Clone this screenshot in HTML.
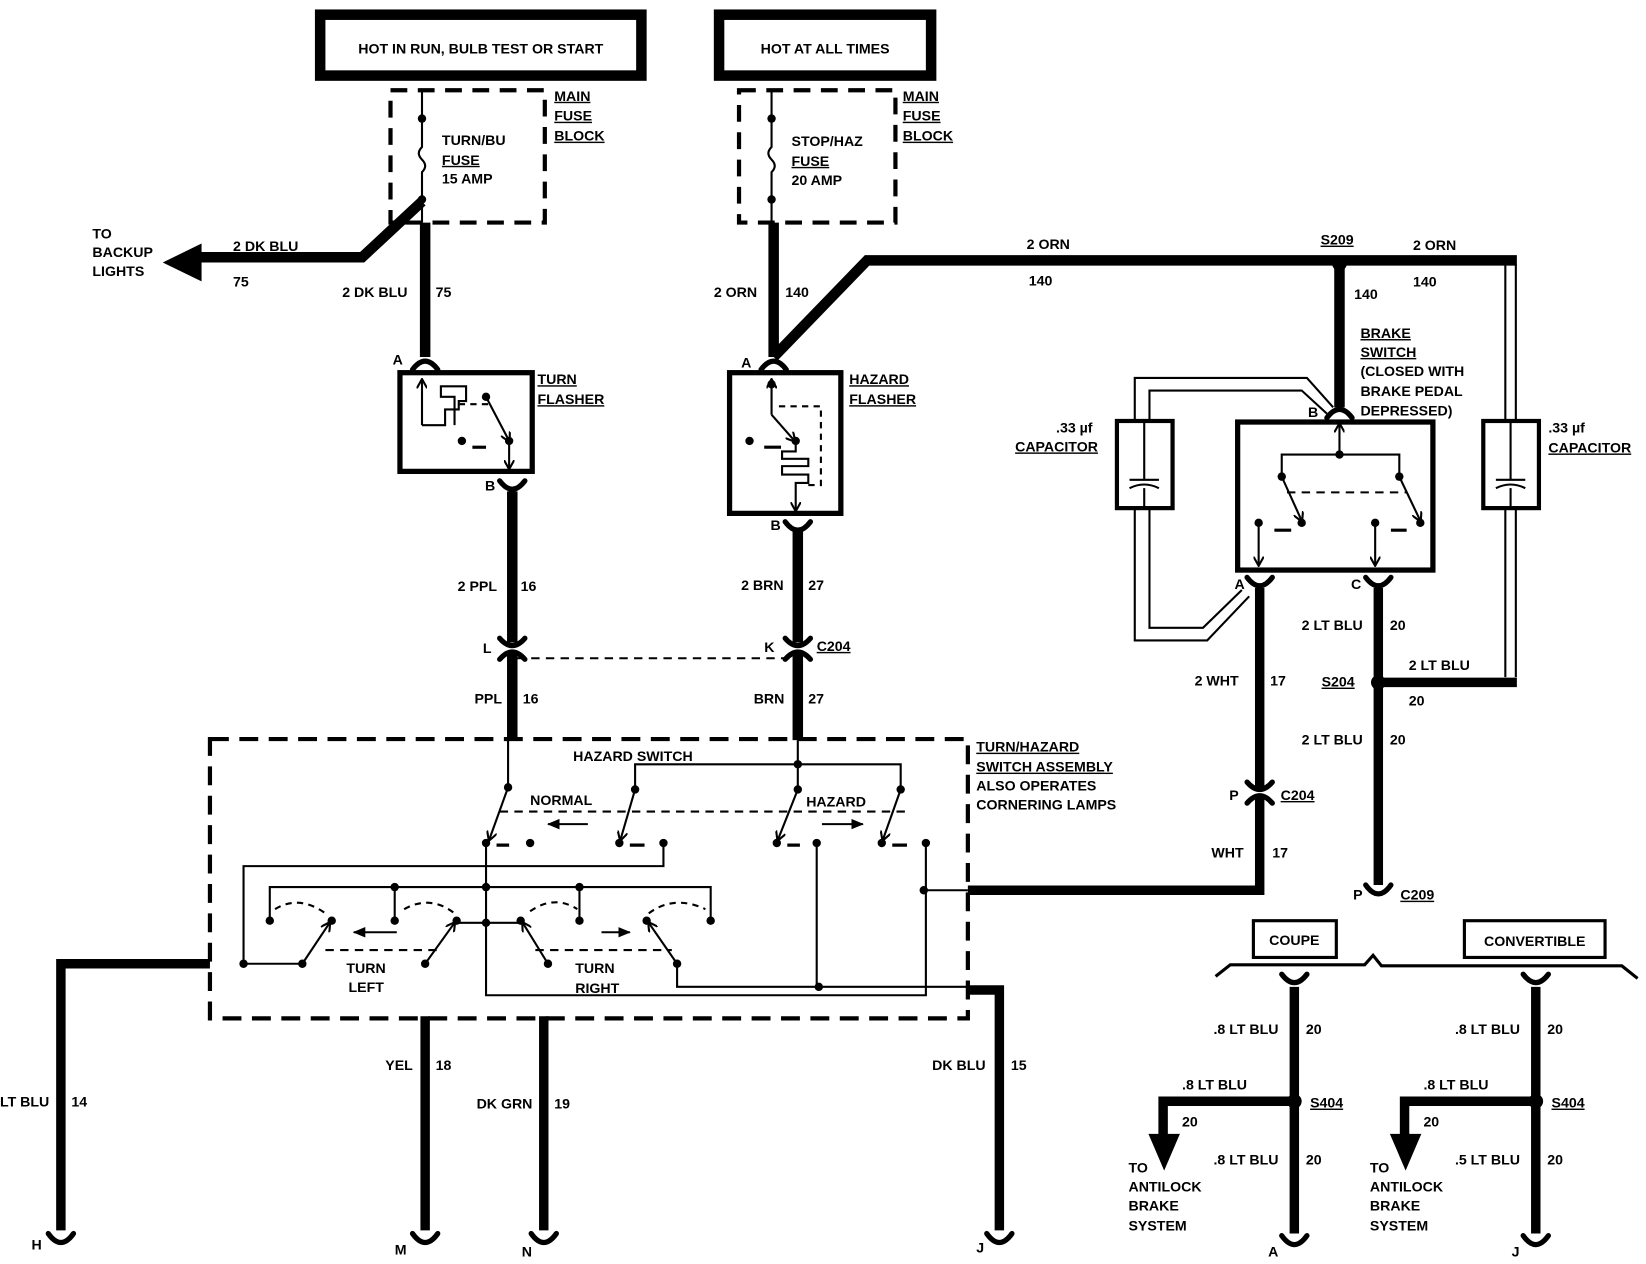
<!DOCTYPE html>
<html><head><meta charset="utf-8"><style>
html,body{margin:0;padding:0;background:#fff}
svg{display:block}
text{font-family:"Liberation Sans",sans-serif;font-weight:bold;font-size:13.5px;fill:#000}
.u{text-decoration:underline}
</style></head><body>
<svg width="1646" height="1264" viewBox="0 0 1568 1204" preserveAspectRatio="none" xmlns="http://www.w3.org/2000/svg">
<defs>
<marker id="ah" markerWidth="10" markerHeight="10" refX="8" refY="5" orient="auto" markerUnits="userSpaceOnUse"><path d="M0,0 L9,5 L0,10" fill="none" stroke="#000" stroke-width="2"/></marker>
<marker id="af" markerWidth="12" markerHeight="10" refX="11" refY="5" orient="auto" markerUnits="userSpaceOnUse"><path d="M0,0 L12,5 L0,10 Z" fill="#000"/></marker>
</defs>
<rect width="1568" height="1204" fill="#fff"/>
<g fill="none" stroke="#000">
<!-- top boxes -->
<rect x="305" y="14" width="306" height="58" stroke-width="10"/>
<rect x="685" y="14" width="202" height="58" stroke-width="10"/>
<!-- fuse blocks -->
<rect x="372" y="86" width="147" height="126" stroke-width="4" stroke-dasharray="16,10"/>
<rect x="704" y="86" width="149" height="126" stroke-width="4" stroke-dasharray="16,10"/>
<path d="M402,86 V113 M402,190 V212 M402,113 V140 q-6,6 0,12 q6,6 0,12 V190" stroke-width="2"/>
<path d="M735,86 V113 M735,190 V212 M735,113 V140 q-6,6 0,12 q6,6 0,12 V190" stroke-width="2"/>
<!-- thick wires -->
<path d="M402,192 L345,245 H185" stroke-width="10"/>
<path d="M405,212 V340" stroke-width="10"/>
<path d="M737,212 V340" stroke-width="10"/>
<path d="M737,340 L826,248 H1445" stroke-width="10"/>
<path d="M1276,250 V388" stroke-width="10"/>
<path d="M488,468 V612 M488,622 V705" stroke-width="10"/>
<path d="M760,505 V612 M760,622 V705" stroke-width="10"/>
<path d="M1200,560 V750 M1200,760 V848 H922" stroke-width="9"/>
<path d="M1313,560 V843" stroke-width="9"/>
<path d="M1313,650 H1445" stroke-width="9"/>
<path d="M1444,250 V650" stroke-width="0"/>
<!-- flasher boxes -->
<rect x="381" y="355" width="126" height="94" stroke-width="5"/>
<rect x="695" y="355" width="106" height="134" stroke-width="5"/>
<rect x="1179" y="402" width="186" height="141" stroke-width="5"/>
<!-- turn flasher internals -->
<path d="M402,405 V362" stroke-width="2" marker-end="url(#ah)"/>
<path d="M402,405 H424 V390 H437 V382 H444 V368 H420 V378 H433 V405" stroke-width="2"/>
<path d="M437,385 H470" stroke-width="2" stroke-dasharray="6,5"/>
<path d="M463,378 L485,420" stroke-width="2" marker-end="url(#ah)"/>
<path d="M485,420 V446" stroke-width="2" marker-end="url(#ah)"/>
<path d="M450,426 H463" stroke-width="3"/>
<!-- hazard flasher internals -->
<path d="M735,395 V362" stroke-width="2" marker-end="url(#ah)"/>
<path d="M735,395 L757,420" stroke-width="2" marker-end="url(#ah)"/>
<path d="M758,420 V430 H745 V437 H770 V444 H745 V452 H770 V460 H758 V486" stroke-width="2" marker-end="url(#ah)"/>
<path d="M742,387 H782 V462 H770" stroke-width="2" stroke-dasharray="6,5"/>
<path d="M728,426 H744" stroke-width="3"/>
<!-- C204 dashed -->
<path d="M492,627 H756" stroke-width="2" stroke-dasharray="8,6"/>
<!-- brake switch internals -->
<path d="M1276,433 V404" stroke-width="2" marker-end="url(#ah)"/>
<path d="M1221,454 V433 H1333 V454" stroke-width="2"/>
<path d="M1221,454 L1240,496" stroke-width="2" marker-end="url(#ah)"/>
<path d="M1333,454 L1353,496" stroke-width="2" marker-end="url(#ah)"/>
<path d="M1226,469 H1340" stroke-width="2" stroke-dasharray="8,6"/>
<path d="M1199,498 V538" stroke-width="2" marker-end="url(#ah)"/>
<path d="M1310,498 V538" stroke-width="2" marker-end="url(#ah)"/>
<path d="M1214,505 H1230 M1325,505 H1340" stroke-width="3"/>
<!-- capacitors -->
<rect x="1064" y="401" width="53" height="83" stroke-width="4"/>
<rect x="1413" y="401" width="53" height="83" stroke-width="4"/>
<path d="M1076,457 H1104 M1076,465 Q1090,458 1104,465 M1090,401 V457 M1090,465 V484" stroke-width="2"/>
<path d="M1425,457 H1453 M1425,465 Q1439,458 1453,465 M1439,401 V457 M1439,465 V484" stroke-width="2"/>
<path d="M1081,401 V360 H1245 L1270,388 M1095,401 V372 H1240 L1264,394" stroke-width="2"/>
<path d="M1081,484 V610 H1150 L1190,568 M1095,484 V598 H1146 L1183,562" stroke-width="2"/>
<path d="M1434,252 V401 M1444,252 V401 M1434,484 V645 M1444,484 V645" stroke-width="2"/>
<!-- switch assembly dashed -->
<rect x="200" y="704" width="722" height="266" stroke-width="4" stroke-dasharray="18,10"/>
<!-- hazard switch internals -->
<g stroke-width="2">
<path d="M484,705 V750"/>
<path d="M484,750 L466,800" marker-end="url(#ah)"/>
<path d="M605,752 V728 H858 V752 M760,705 V752"/>
<path d="M605,752 L591,800" marker-end="url(#ah)"/>
<path d="M760,752 L741,800" marker-end="url(#ah)"/>
<path d="M858,752 L841,800" marker-end="url(#ah)"/>
<path d="M476,773 H862" stroke-dasharray="8,6"/>
<path d="M560,785 H522" marker-end="url(#af)"/>
<path d="M783,785 H822" marker-end="url(#af)"/>
<path d="M473,805 H485 M600,805 H614 M750,805 H762 M850,805 H864" stroke-width="3"/>
<path d="M463,803 V879"/>
<path d="M632,803 V825 H232 V918"/>
<path d="M778,803 V940"/>
<path d="M882,803 V948 H463 V879"/>
<path d="M880,848 H922"/>
<path d="M257,877 V845 H677 V877 M376,845 V877 M552,845 V877"/>
<path d="M262,866 Q285,852 310,870 M385,866 Q410,852 433,870 M505,868 Q528,852 550,866 M618,870 Q642,852 672,866" stroke-dasharray="6,5"/>
<path d="M435,879 H496"/>
<path d="M288,918 L314,879" marker-end="url(#ah)"/>
<path d="M405,918 L433,879" marker-end="url(#ah)"/>
<path d="M522,918 L498,879" marker-end="url(#ah)"/>
<path d="M645,918 L618,879" marker-end="url(#ah)"/>
<path d="M232,918 H288"/>
<path d="M645,918 V940 H922"/>
<path d="M310,905 H420 M510,905 H640" stroke-dasharray="8,6"/>
<path d="M378,888 H337" marker-end="url(#af)"/>
<path d="M573,888 H600" marker-end="url(#af)"/>
</g>
<!-- bottom wires -->
<path d="M200,918 H58 V1172" stroke-width="9"/>
<path d="M405,968 V1172" stroke-width="9"/>
<path d="M518,968 V1172" stroke-width="9"/>
<path d="M922,943 H952 V1172" stroke-width="9"/>
<!-- coupe / convertible -->
<rect x="1194" y="877" width="79" height="35" stroke-width="3"/>
<rect x="1395" y="877" width="134" height="35" stroke-width="3"/>
<path d="M1158,930 L1172,919 H1300 L1308,910 L1316,920 H1545 L1560,932" stroke-width="3"/>
<path d="M1233,940 V1175 M1463,940 V1175" stroke-width="9"/>
<path d="M1233,1049 H1108 V1085 M1463,1049 H1338 V1085" stroke-width="9"/>
</g>
<!-- filled stuff -->
<g fill="#000">
<path d="M155,250 L192,232 L192,268 Z"/>
<path d="M1094,1080 L1124,1080 L1109,1115 Z"/>
<path d="M1324,1080 L1354,1080 L1339,1115 Z"/>
<circle cx="402" cy="113" r="4"/><circle cx="402" cy="190" r="4"/>
<circle cx="735" cy="113" r="4"/><circle cx="735" cy="190" r="4"/>
<circle cx="1276" cy="251" r="7"/><circle cx="1313" cy="650" r="7"/>
<circle cx="1233" cy="1049" r="7"/><circle cx="1463" cy="1049" r="7"/>
<circle cx="463" cy="378" r="4"/><circle cx="485" cy="420" r="4"/><circle cx="440" cy="420" r="4"/>
<circle cx="735" cy="366" r="4"/><circle cx="758" cy="420" r="4"/><circle cx="714" cy="420" r="4"/>
<circle cx="1276" cy="433" r="4"/><circle cx="1221" cy="454" r="4"/><circle cx="1333" cy="454" r="4"/>
<circle cx="1240" cy="498" r="4"/><circle cx="1199" cy="498" r="4"/><circle cx="1353" cy="498" r="4"/><circle cx="1310" cy="498" r="4"/>
<circle cx="484" cy="750" r="4"/><circle cx="605" cy="752" r="4"/><circle cx="760" cy="752" r="4"/><circle cx="858" cy="752" r="4"/><circle cx="760" cy="728" r="4"/>
<circle cx="463" cy="803" r="4"/><circle cx="505" cy="803" r="4"/><circle cx="590" cy="803" r="4"/><circle cx="632" cy="803" r="4"/>
<circle cx="740" cy="803" r="4"/><circle cx="778" cy="803" r="4"/><circle cx="840" cy="803" r="4"/><circle cx="882" cy="803" r="4"/>
<circle cx="463" cy="845" r="4"/><circle cx="376" cy="845" r="4"/><circle cx="552" cy="845" r="4"/><circle cx="880" cy="848" r="4"/>
<circle cx="257" cy="877" r="4"/><circle cx="316" cy="877" r="4"/><circle cx="376" cy="877" r="4"/><circle cx="435" cy="877" r="4"/>
<circle cx="463" cy="879" r="4"/><circle cx="496" cy="877" r="4"/><circle cx="552" cy="877" r="4"/><circle cx="616" cy="877" r="4"/><circle cx="677" cy="877" r="4"/>
<circle cx="232" cy="918" r="4"/><circle cx="288" cy="918" r="4"/><circle cx="405" cy="918" r="4"/><circle cx="522" cy="918" r="4"/><circle cx="645" cy="918" r="4"/>
<circle cx="780" cy="940" r="4"/>
</g>
<!-- connectors -->
<g fill="none" stroke="#000" stroke-width="5" stroke-linecap="round">
<path d="M393,352 Q405,336 417,352"/><path d="M725,352 Q737,336 749,352"/><path d="M1264,398 Q1276,382 1288,398"/>
<path d="M476,458 Q488,474 500,458"/><path d="M748,497 Q760,513 772,497"/>
<path d="M1188,550 Q1200,566 1212,550"/><path d="M1301,550 Q1313,566 1325,550"/>
<path d="M476,608 Q488,622 500,608 M476,628 Q488,614 500,628"/>
<path d="M748,608 Q760,622 772,608 M748,628 Q760,614 772,628"/>
<path d="M1188,745 Q1200,759 1212,745 M1188,765 Q1200,751 1212,765"/>
<path d="M1221,928 Q1233,944 1245,928"/><path d="M1451,928 Q1463,944 1475,928"/>
<path d="M46,1175 Q58,1192 70,1175"/><path d="M393,1175 Q405,1192 417,1175"/><path d="M506,1175 Q518,1192 530,1175"/><path d="M940,1175 Q952,1192 964,1175"/>
<path d="M1221,1177 Q1233,1194 1245,1177"/><path d="M1451,1177 Q1463,1194 1475,1177"/>
<path d="M1301,843 Q1313,860 1325,843"/>
</g>
<!-- text -->
<text x="458" y="51" text-anchor="middle">HOT IN RUN, BULB TEST OR START</text>
<text x="786" y="51" text-anchor="middle">HOT AT ALL TIMES</text>
<text x="421" y="138">TURN/BU</text><text x="421" y="157" class="u">FUSE</text><text x="421" y="175">15 AMP</text>
<text x="528" y="96" class="u">MAIN</text><text x="528" y="115" class="u">FUSE</text><text x="528" y="134" class="u">BLOCK</text>
<text x="754" y="139">STOP/HAZ</text><text x="754" y="158" class="u">FUSE</text><text x="754" y="176">20 AMP</text>
<text x="860" y="96" class="u">MAIN</text><text x="860" y="115" class="u">FUSE</text><text x="860" y="134" class="u">BLOCK</text>
<text x="88" y="227">TO</text><text x="88" y="245">BACKUP</text><text x="88" y="263">LIGHTS</text>
<text x="222" y="239">2 DK BLU</text><text x="222" y="273">75</text>
<text x="326" y="283">2 DK BLU</text><text x="415" y="283">75</text>
<text x="680" y="283">2 ORN</text><text x="748" y="283">140</text>
<text x="978" y="237">2 ORN</text><text x="980" y="272">140</text>
<text x="1258" y="233" class="u">S209</text><text x="1346" y="238">2 ORN</text>
<text x="1290" y="285">140</text><text x="1346" y="273">140</text>
<text x="374" y="347">A</text><text x="706" y="350">A</text><text x="462" y="467">B</text><text x="734" y="505">B</text>
<text x="512" y="366" class="u">TURN</text><text x="512" y="385" class="u">FLASHER</text>
<text x="809" y="366" class="u">HAZARD</text><text x="809" y="385" class="u">FLASHER</text>
<text x="1296" y="322" class="u">BRAKE</text><text x="1296" y="340" class="u">SWITCH</text>
<text x="1296" y="358">(CLOSED WITH</text><text x="1296" y="377">BRAKE PEDAL</text><text x="1296" y="396">DEPRESSED)</text>
<text x="1246" y="397">B</text>
<text x="1006" y="412">.33 µf</text><text x="967" y="430" class="u">CAPACITOR</text>
<text x="1475" y="412">.33 µf</text><text x="1475" y="431" class="u">CAPACITOR</text>
<text x="1176" y="561">A</text><text x="1287" y="561">C</text>
<text x="436" y="563">2 PPL</text><text x="496" y="563">16</text>
<text x="706" y="562">2 BRN</text><text x="770" y="562">27</text>
<text x="460" y="622">L</text><text x="728" y="621">K</text><text x="778" y="620" class="u">C204</text>
<text x="452" y="670">PPL</text><text x="498" y="670">16</text>
<text x="718" y="670">BRN</text><text x="770" y="670">27</text>
<text x="1240" y="600">2 LT BLU</text><text x="1324" y="600">20</text>
<text x="1342" y="638">2 LT BLU</text>
<text x="1259" y="654" class="u">S204</text><text x="1342" y="672">20</text>
<text x="1138" y="653">2 WHT</text><text x="1210" y="653">17</text>
<text x="1240" y="709">2 LT BLU</text><text x="1324" y="709">20</text>
<text x="1171" y="762">P</text><text x="1220" y="762" class="u">C204</text>
<text x="1154" y="817">WHT</text><text x="1212" y="817">17</text>
<text x="1289" y="857">P</text><text x="1334" y="857" class="u">C209</text>
<text x="930" y="716" class="u">TURN/HAZARD</text><text x="930" y="735" class="u">SWITCH ASSEMBLY</text>
<text x="930" y="753">ALSO OPERATES</text><text x="930" y="771">CORNERING LAMPS</text>
<text x="546" y="725">HAZARD  SWITCH</text>
<text x="505" y="767">NORMAL</text><text x="768" y="768">HAZARD</text>
<text x="330" y="927">TURN</text><text x="332" y="945">LEFT</text>
<text x="548" y="927">TURN</text><text x="548" y="946">RIGHT</text>
<text x="1233" y="900" text-anchor="middle">COUPE</text><text x="1462" y="901" text-anchor="middle">CONVERTIBLE</text>
<text x="0" y="1054">LT BLU</text><text x="68" y="1054">14</text>
<text x="367" y="1019">YEL</text><text x="415" y="1019">18</text>
<text x="454" y="1056">DK GRN</text><text x="528" y="1056">19</text>
<text x="888" y="1019">DK BLU</text><text x="963" y="1019">15</text>
<text x="1156" y="985">.8 LT BLU</text><text x="1244" y="985">20</text>
<text x="1386" y="985">.8 LT BLU</text><text x="1474" y="985">20</text>
<text x="1126" y="1038">.8 LT BLU</text><text x="1356" y="1038">.8 LT BLU</text>
<text x="1248" y="1055" class="u">S404</text><text x="1478" y="1055" class="u">S404</text>
<text x="1126" y="1073">20</text><text x="1356" y="1073">20</text>
<text x="1156" y="1109">.8 LT BLU</text><text x="1244" y="1109">20</text>
<text x="1386" y="1109">.5 LT BLU</text><text x="1474" y="1109">20</text>
<text x="1075" y="1117">TO</text><text x="1075" y="1135">ANTILOCK</text><text x="1075" y="1153">BRAKE</text><text x="1075" y="1172">SYSTEM</text>
<text x="1305" y="1117">TO</text><text x="1305" y="1135">ANTILOCK</text><text x="1305" y="1153">BRAKE</text><text x="1305" y="1172">SYSTEM</text>
<text x="30" y="1190">H</text><text x="376" y="1195">M</text><text x="497" y="1197">N</text><text x="930" y="1193">J</text>
<text x="1208" y="1197">A</text><text x="1440" y="1197">J</text>
</svg>
</body></html>
